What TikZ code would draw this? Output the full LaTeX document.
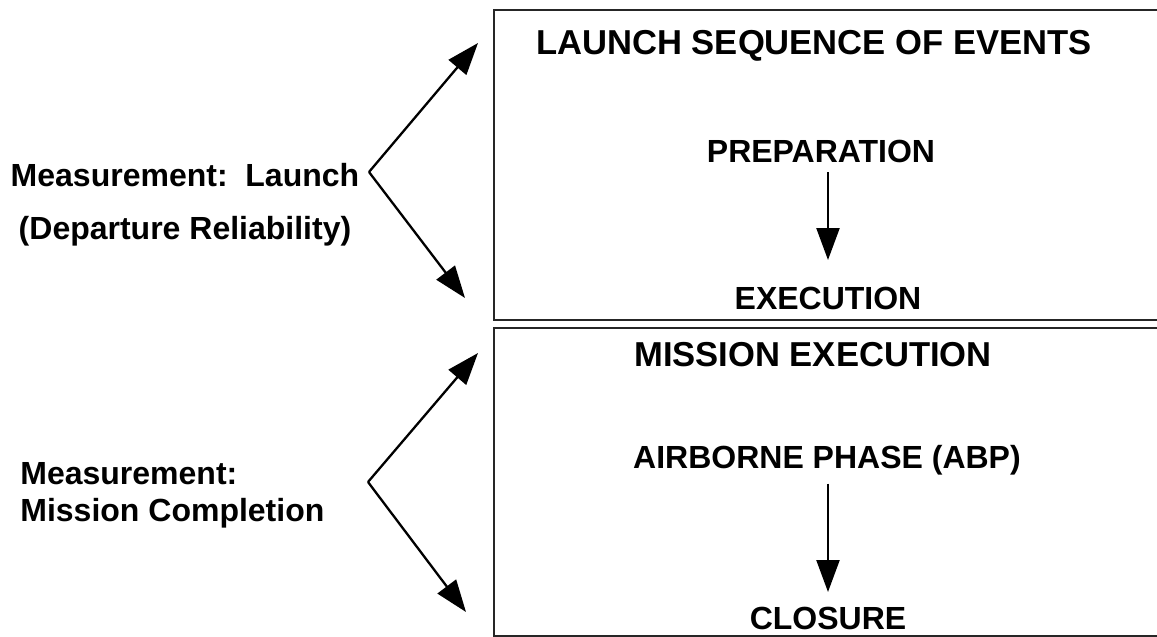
\documentclass[tikz,border=0pt]{standalone}
\usepackage{fontspec}
\setmainfont{Liberation Sans}
\usepackage{tikz}
\usetikzlibrary{arrows.meta}

\begin{document}
\begin{tikzpicture}[x=0.5pt,y=-0.5pt,
		lbl/.style={font=\bfseries\fontsize{16}{18.5}\selectfont, inner sep=0pt},
		ttl/.style={font=\bfseries\fontsize{17.3}{20}\selectfont, inner sep=0pt},
		arr/.style={-{Triangle[length=16pt,width=11.5pt]}, line width=1.15pt},
		frame/.style={draw=black!85, line width=1.3pt}]
		\useasboundingbox (0,0) rectangle (1157,637);
		% the two boxes, open to the right
		\draw[frame] (1170,10) -- (494,10) -- (494,320) -- (1170,320);
		\draw[frame] (1170,328) -- (494,328) -- (494,636) -- (1170,636);
		% left side
		\node[lbl, align=center, anchor=north] (launchm) at (185,163) {Measurement:\ \ Launch\\[8pt](Departure Reliability)};
		\node[lbl, align=left, anchor=north west] (missionm) at (20,462) {Measurement:\\Mission Completion};
		\coordinate (v1) at (369,172);
		\coordinate (t1) at (478,43);
		\coordinate (b1) at (465,298);
		\coordinate (v2) at (368,482);
		\coordinate (t2) at (478,353);
		\coordinate (b2) at (466,612);
		\path[arr]
		(v1) edge (t1) edge (b1);
		\path[arr]
		(v2) edge (t2) edge (b2);
		% right side
		\node[ttl, anchor=north] (seq) at (814,30) {LAUNCH SEQUENCE OF EVENTS};
		\node[lbl, anchor=north] (prep) at (821,140) {PREPARATION};
		\node[lbl, anchor=north] (exec) at (828,287) {EXECUTION};
		\node[ttl, anchor=north] (mis) at (813,342) {MISSION EXECUTION};
		\node[lbl, anchor=north] (abp) at (827,445) {AIRBORNE PHASE (ABP)};
		\node[lbl, anchor=north] (clos) at (828,607) {CLOSURE};
		\path[arr, shorten <=4.5pt, shorten >=13.5pt]
		(prep.south -| exec.north) edge (exec.north);
		\path[arr, shorten <=4pt, shorten >=7.5pt]
		(abp.south -| clos.north) edge (clos.north);
\end{tikzpicture}
\end{document}
